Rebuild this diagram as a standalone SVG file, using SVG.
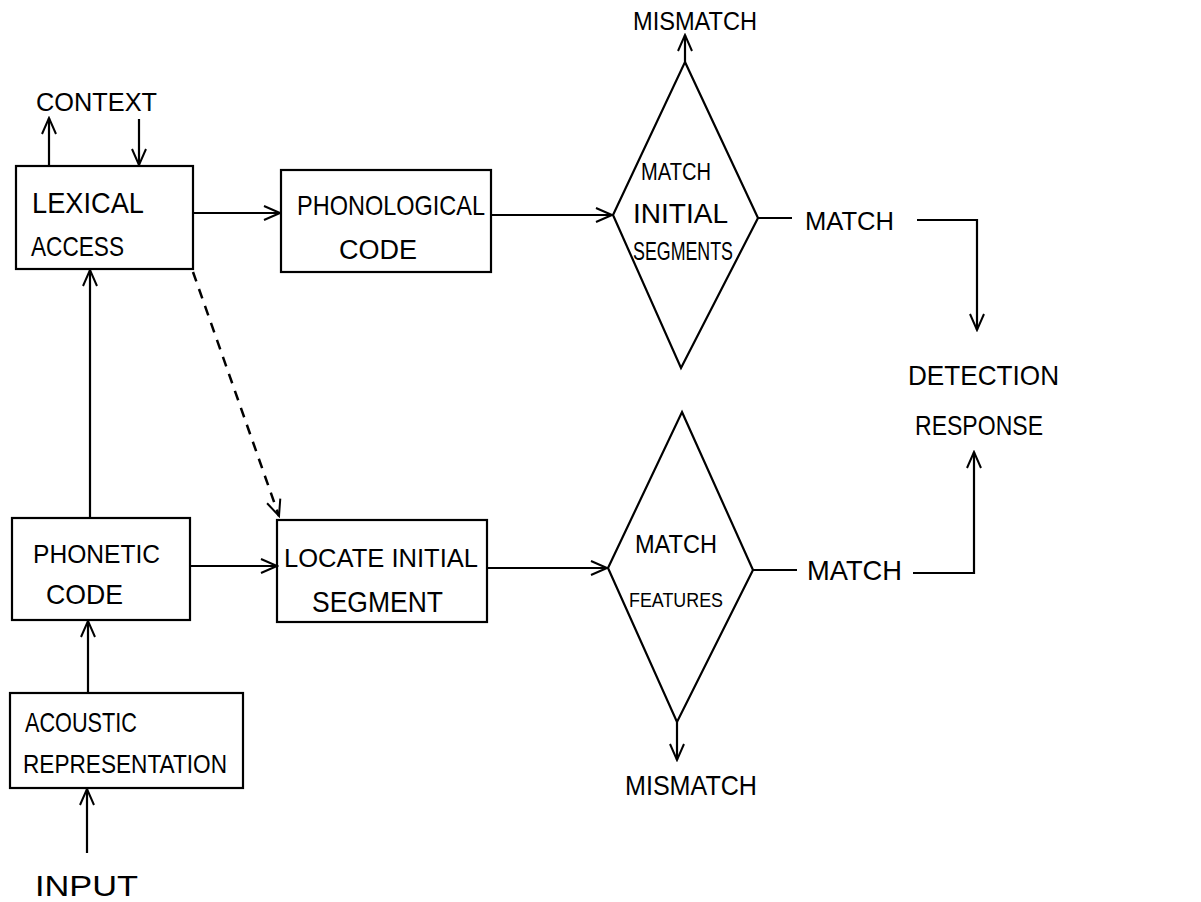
<svg xmlns="http://www.w3.org/2000/svg" width="1201" height="902" viewBox="0 0 1201 902">
<defs>
<style>
.box{fill:none;stroke:#000;stroke-width:2.2}
.ln{fill:none;stroke:#000;stroke-width:2.2}
.arr{fill:none;stroke:#000;stroke-width:2.2;marker-end:url(#ah)}
.dash{fill:none;stroke:#000;stroke-width:2.5;stroke-dasharray:10,8;marker-end:url(#ah)}
text{font-family:"Liberation Sans","DejaVu Sans",sans-serif;fill:#000}
</style>
<marker id="ah" viewBox="-18 -9 20 18" markerWidth="20" markerHeight="18" refX="0" refY="0" markerUnits="userSpaceOnUse" orient="auto">
<path d="M-16,-7 L0,0 L-16,7" fill="none" stroke="#000" stroke-width="2"/>
</marker>
</defs>
<rect width="1201" height="902" fill="#fff"/>

<g id="connectors">
<path class="arr" d="M49,166 V118"/>
<path class="arr" d="M139,119 V165"/>
<path class="arr" d="M193,213 H280"/>
<path class="arr" d="M491,215 H612"/>
<path class="arr" d="M685,62 V35"/>
<path class="ln" d="M758,218 H792"/>
<path class="arr" d="M917,220 H977 V330"/>
<path class="arr" d="M90,518 V270"/>
<path class="dash" d="M193,272 L279,516"/>
<path class="arr" d="M190,566 H277"/>
<path class="arr" d="M487,568 H607"/>
<path class="ln" d="M753,570 H797"/>
<path class="arr" d="M913,573 H974 V452"/>
<path class="arr" d="M677,722 V760"/>
<path class="arr" d="M88,693 V621"/>
<path class="arr" d="M87,853 V789"/>
</g>

<g id="context"><text x="36" y="111" font-size="26" textLength="121" lengthAdjust="spacingAndGlyphs">CONTEXT</text></g>

<g id="lexical-access">
<rect class="box" x="16" y="166" width="177" height="103"/>
<text x="32" y="213" font-size="30" textLength="112" lengthAdjust="spacingAndGlyphs">LEXICAL</text>
<text x="31" y="256" font-size="28" textLength="93" lengthAdjust="spacingAndGlyphs">ACCESS</text>
</g>

<g id="phonological-code">
<rect class="box" x="281" y="170" width="210" height="102"/>
<text x="297" y="215" font-size="28" textLength="188" lengthAdjust="spacingAndGlyphs">PHONOLOGICAL</text>
<text x="339" y="259" font-size="27" textLength="78" lengthAdjust="spacingAndGlyphs">CODE</text>
</g>

<g id="match-initial-segments">
<path class="box" d="M685,62 L758,218 L681,368 L613,215 Z"/>
<text x="641" y="180" font-size="23" textLength="70" lengthAdjust="spacingAndGlyphs">MATCH</text>
<text x="633" y="223" font-size="28" textLength="95" lengthAdjust="spacingAndGlyphs">INITIAL</text>
<text x="633" y="260" font-size="25" textLength="100" lengthAdjust="spacingAndGlyphs">SEGMENTS</text>
</g>

<g id="mismatch-top"><text x="633" y="30" font-size="25" textLength="124" lengthAdjust="spacingAndGlyphs">MISMATCH</text></g>
<g id="match-top"><text x="805" y="230" font-size="26" textLength="89" lengthAdjust="spacingAndGlyphs">MATCH</text></g>

<g id="detection-response">
<text x="908" y="385" font-size="28" textLength="151" lengthAdjust="spacingAndGlyphs">DETECTION</text>
<text x="915" y="435" font-size="28" textLength="128" lengthAdjust="spacingAndGlyphs">RESPONSE</text>
</g>

<g id="phonetic-code">
<rect class="box" x="12" y="518" width="178" height="102"/>
<text x="33" y="563" font-size="26" textLength="127" lengthAdjust="spacingAndGlyphs">PHONETIC</text>
<text x="46" y="604" font-size="28" textLength="77" lengthAdjust="spacingAndGlyphs">CODE</text>
</g>

<g id="locate-initial-segment">
<rect class="box" x="277" y="520" width="210" height="102"/>
<text x="284" y="567" font-size="26" textLength="194" lengthAdjust="spacingAndGlyphs">LOCATE INITIAL</text>
<text x="312" y="612" font-size="30" textLength="131" lengthAdjust="spacingAndGlyphs">SEGMENT</text>
</g>

<g id="match-features">
<path class="box" d="M682,412 L753,570 L677,722 L608,568 Z"/>
<text x="635" y="553" font-size="25" textLength="82" lengthAdjust="spacingAndGlyphs">MATCH</text>
<text x="629" y="607" font-size="21" textLength="94" lengthAdjust="spacingAndGlyphs">FEATURES</text>
</g>

<g id="match-bottom"><text x="807" y="580" font-size="28" textLength="95" lengthAdjust="spacingAndGlyphs">MATCH</text></g>
<g id="mismatch-bottom"><text x="625" y="795" font-size="28" textLength="132" lengthAdjust="spacingAndGlyphs">MISMATCH</text></g>

<g id="acoustic-representation">
<rect class="box" x="10" y="693" width="233" height="95"/>
<text x="25" y="732" font-size="28" textLength="112" lengthAdjust="spacingAndGlyphs">ACOUSTIC</text>
<text x="23" y="773" font-size="25" textLength="204" lengthAdjust="spacingAndGlyphs">REPRESENTATION</text>
</g>

<g id="input"><text x="35" y="896" font-size="30" textLength="103" lengthAdjust="spacingAndGlyphs">INPUT</text></g>
</svg>
